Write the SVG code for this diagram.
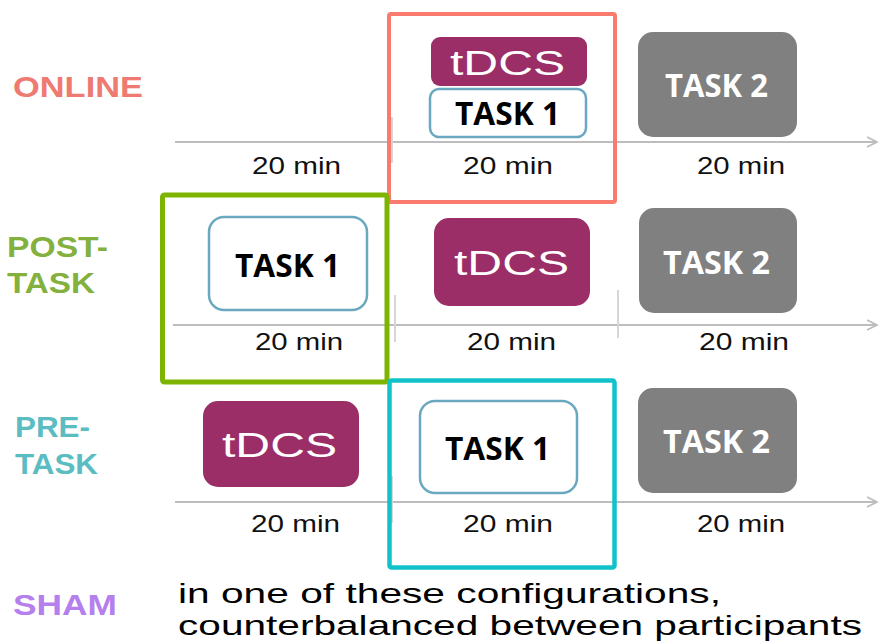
<svg xmlns="http://www.w3.org/2000/svg" width="878" height="644" viewBox="0 0 878 644">
<defs>
<style>
.lbl{font-family:"Liberation Sans",Arial,sans-serif;font-weight:700;font-size:30px}
.lbl2{font-family:"Liberation Sans",Arial,sans-serif;font-weight:700;font-size:30px}
.min{font-family:"Liberation Sans",Arial,sans-serif;font-size:24px;fill:#111}
.tdcs rect{fill:#9B2D67}
.tdcs text{font-family:"Liberation Sans",Arial,sans-serif;font-size:35px;fill:#fff}
.t1 rect{fill:#fff;stroke:#6AA8BF;stroke-width:2.5}
.t1 text{font-family:"Open Sans","Liberation Sans",sans-serif;font-weight:700;font-size:32px;fill:#000}
.t2 rect{fill:#808080}
.t2 text{font-family:"Open Sans","Liberation Sans",sans-serif;font-weight:700;font-size:32px;fill:#fff}
.axis{stroke:#BDBDBD;stroke-width:2;fill:none}
.tick{stroke:#D6D6D6;stroke-width:2}
.frame{fill:none}
.note{font-family:"Liberation Sans",Arial,sans-serif;font-size:28px;fill:#000}
</style>
<marker id="arr" markerUnits="userSpaceOnUse" markerWidth="12" markerHeight="12" refX="10" refY="5" orient="auto" viewBox="0 0 12 10">
<path d="M0,0 L10,5 L0,10" fill="none" stroke="#BDBDBD" stroke-width="1.8"/>
</marker>
</defs>
<rect width="878" height="644" fill="#fff"/>

<g id="connectors">
<line class="axis" x1="175" y1="142" x2="877" y2="142" marker-end="url(#arr)"/>
<line class="axis" x1="173" y1="325" x2="877" y2="325" marker-end="url(#arr)"/>
<line class="axis" x1="175" y1="502" x2="877" y2="502" marker-end="url(#arr)"/>
<line class="tick" x1="392" y1="117" x2="392" y2="163"/>
<line class="tick" x1="395" y1="295" x2="395" y2="342"/>
<line class="tick" x1="618" y1="290" x2="618" y2="338"/>
<line class="tick" x1="392" y1="476" x2="392" y2="523"/>
</g>

<g id="labels">
<text class="lbl" x="13" y="97" fill="#EF7A72" textLength="130" lengthAdjust="spacingAndGlyphs">ONLINE</text>
<text class="lbl2" x="7" y="257" fill="#84B03E" textLength="101" lengthAdjust="spacingAndGlyphs">POST-</text>
<text class="lbl2" x="7" y="293" fill="#84B03E" textLength="88" lengthAdjust="spacingAndGlyphs">TASK</text>
<text class="lbl2" x="15" y="437" fill="#5BBCC1" textLength="75" lengthAdjust="spacingAndGlyphs">PRE-</text>
<text class="lbl2" x="15" y="474" fill="#5BBCC1" textLength="83" lengthAdjust="spacingAndGlyphs">TASK</text>
<text class="lbl" x="13" y="615" fill="#B57FEE" textLength="104" lengthAdjust="spacingAndGlyphs">SHAM</text>
</g>

<g id="durations">
<text class="min" x="252" y="174" textLength="89" lengthAdjust="spacingAndGlyphs">20 min</text>
<text class="min" x="463" y="174" textLength="90" lengthAdjust="spacingAndGlyphs">20 min</text>
<text class="min" x="697" y="174" textLength="88" lengthAdjust="spacingAndGlyphs">20 min</text>
<text class="min" x="255" y="350" textLength="88" lengthAdjust="spacingAndGlyphs">20 min</text>
<text class="min" x="467" y="350" textLength="89" lengthAdjust="spacingAndGlyphs">20 min</text>
<text class="min" x="699" y="350" textLength="90" lengthAdjust="spacingAndGlyphs">20 min</text>
<text class="min" x="251" y="532" textLength="89" lengthAdjust="spacingAndGlyphs">20 min</text>
<text class="min" x="463" y="532" textLength="90" lengthAdjust="spacingAndGlyphs">20 min</text>
<text class="min" x="697" y="532" textLength="88" lengthAdjust="spacingAndGlyphs">20 min</text>
</g>

<!-- Row 1: ONLINE -->
<g id="online-tdcs" class="tdcs"><rect x="431" y="37" width="156" height="49" rx="9"/><text x="450" y="75" textLength="115" lengthAdjust="spacingAndGlyphs">tDCS</text></g>
<g id="online-task1" class="t1"><rect x="430" y="89" width="156" height="48" rx="9"/><text x="455" y="125" textLength="105" lengthAdjust="spacingAndGlyphs">TASK 1</text></g>
<g id="online-task2" class="t2"><rect x="638" y="32" width="159" height="105" rx="15"/><text x="665" y="97" textLength="103" lengthAdjust="spacingAndGlyphs">TASK 2</text></g>

<!-- Row 2: POST-TASK -->
<g id="post-task1" class="t1"><rect x="209" y="217" width="158" height="93" rx="15"/><text x="235" y="277" textLength="105" lengthAdjust="spacingAndGlyphs">TASK 1</text></g>
<g id="post-tdcs" class="tdcs"><rect x="434" y="218" width="156" height="88" rx="15"/><text x="454" y="275" textLength="115" lengthAdjust="spacingAndGlyphs">tDCS</text></g>
<g id="post-task2" class="t2"><rect x="639" y="208" width="158" height="105" rx="15"/><text x="663" y="274" textLength="107" lengthAdjust="spacingAndGlyphs">TASK 2</text></g>

<!-- Row 3: PRE-TASK -->
<g id="pre-tdcs" class="tdcs"><rect x="203" y="401" width="156" height="86" rx="15"/><text x="222" y="457" textLength="115" lengthAdjust="spacingAndGlyphs">tDCS</text></g>
<g id="pre-task1" class="t1"><rect x="420" y="401" width="157" height="92" rx="15"/><text x="445" y="460" textLength="105" lengthAdjust="spacingAndGlyphs">TASK 1</text></g>
<g id="pre-task2" class="t2"><rect x="638" y="388" width="159" height="105" rx="15"/><text x="663" y="453" textLength="107" lengthAdjust="spacingAndGlyphs">TASK 2</text></g>

<!-- Highlight frames -->
<g id="frame-online"><rect class="frame" x="389" y="14" width="226" height="188" rx="2" stroke="#F87B6E" stroke-width="4"/></g>
<g id="frame-post"><rect class="frame" x="162.5" y="195" width="224.5" height="187" rx="2" stroke="#7DB400" stroke-width="5"/></g>
<g id="frame-pre"><rect class="frame" x="389.5" y="380.5" width="225" height="187" rx="2" stroke="#12C2CA" stroke-width="4.5"/></g>

<g id="note">
<text class="note" x="178" y="603" textLength="543" lengthAdjust="spacingAndGlyphs">in one of these configurations,</text>
<text class="note" x="178" y="635" textLength="684" lengthAdjust="spacingAndGlyphs">counterbalanced between participants</text>
</g>
</svg>
